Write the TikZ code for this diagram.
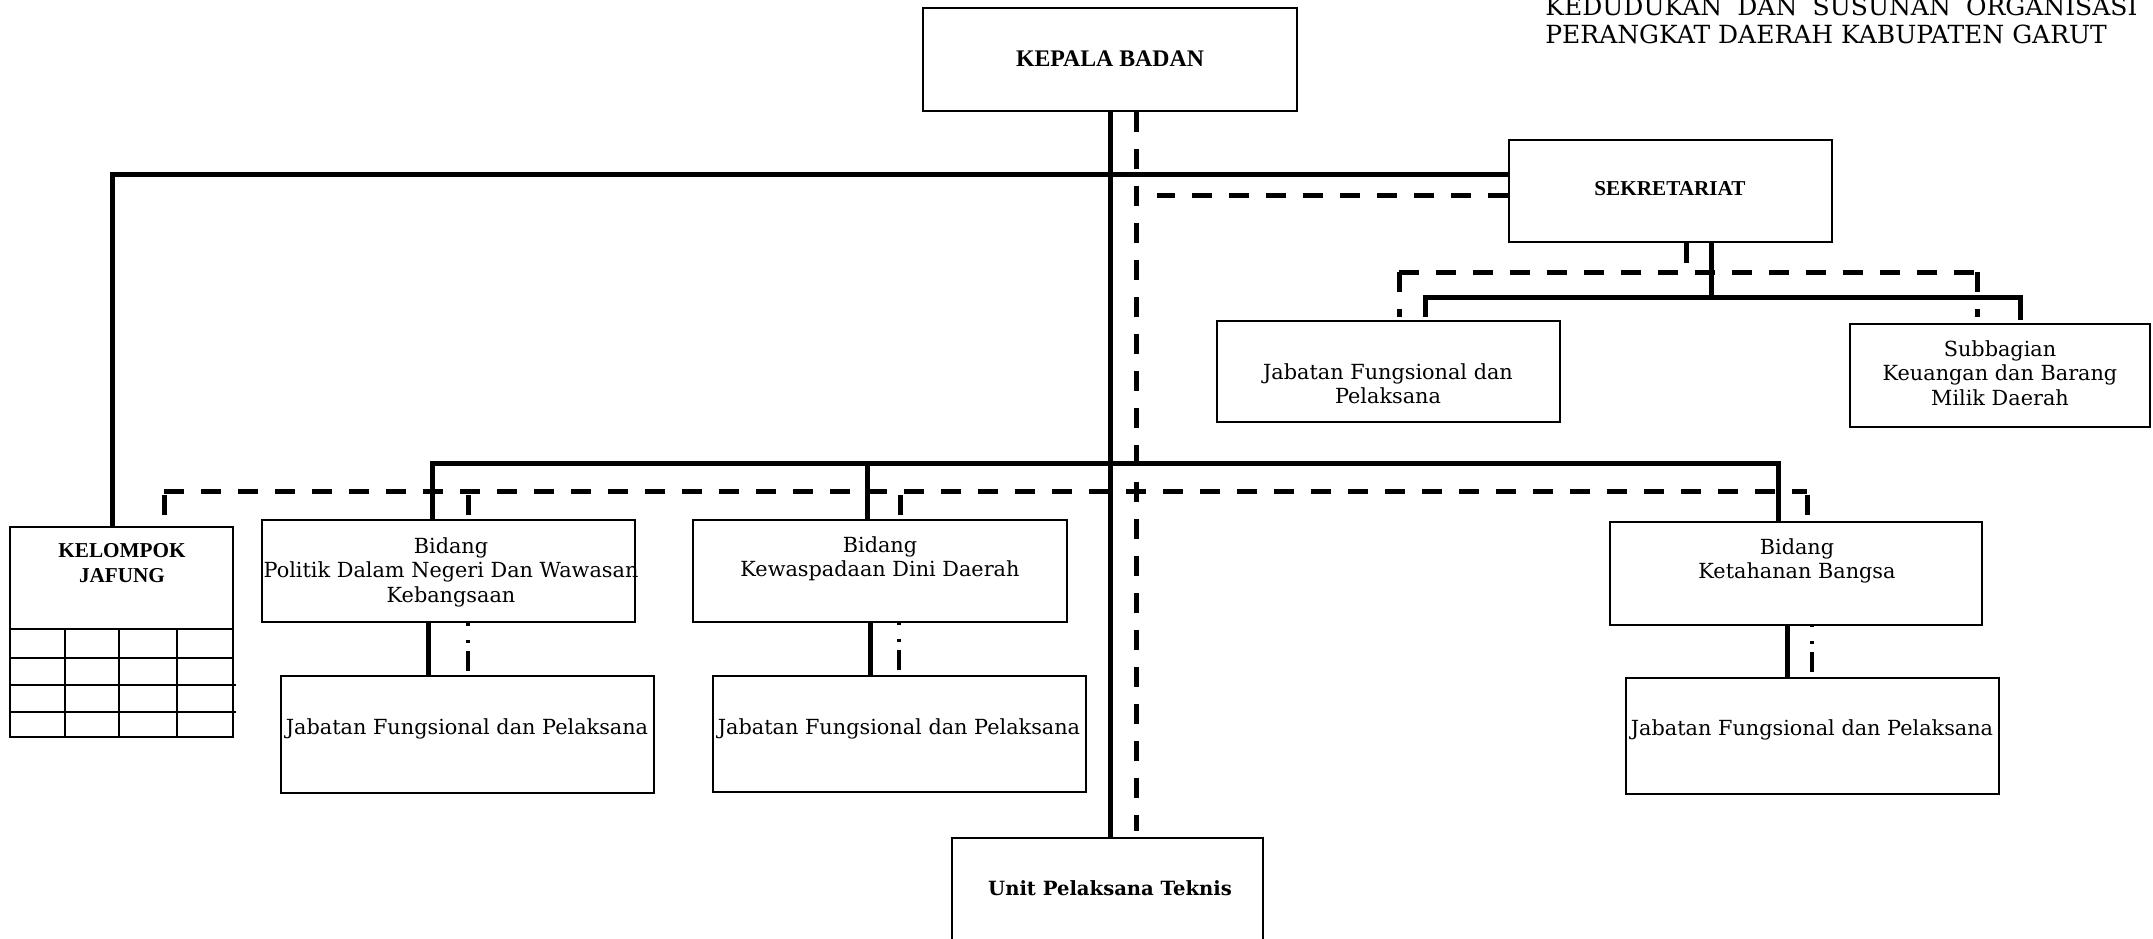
\documentclass[tikz,border=0pt]{standalone}
\usepackage{fontspec}
\setmainfont{Liberation Serif}
\newfontfamily\bkm{DejaVu Serif}
\usetikzlibrary{fit}

\tikzset{
  box/.style={draw, line width=1pt, inner sep=0pt},
  conn/.style={line width=2.5pt},
  dashconn/.style={line width=2.5pt, dash pattern=on 10pt off 8.5pt},
  stubconn/.style={dashconn, dash phase=16.5pt},
  dotconn/.style={line width=2.2pt, dash pattern=on 10pt off 4pt on 1.5pt off 7pt},
  bk/.style={font=\bkm\fontsize{10.4}{12.25}\selectfont, align=center, inner sep=0pt},
  hd/.style={font=\bfseries\fontsize{10.6}{12.5}\selectfont, align=center, inner sep=0pt},
  headline/.style={font=\bkm\fontsize{12.5}{15}\selectfont, inner sep=0pt, anchor=base west},
}

\begin{document}
\begin{tikzpicture}[x=0.5pt, y=-0.5pt]
\useasboundingbox (0,0) rectangle (2153,938);
\clip (0,0) rectangle (2153,938);
\fill[white] (0,0) rectangle (2153,938);

% title lines, top right
\node[headline] (head1) at (1545,15.5) {\makebox[296pt][s]{KEDUDUKAN DAN SUSUNAN ORGANISASI}};
\node[headline] (head2) at (1545,43) {PERANGKAT DAERAH KABUPATEN GARUT};

% boxes
\node[box, fit={(923,8) (1297,111)}] (kepala) {};
\node[box, fit={(1509,140) (1832,242)}] (sekre) {};
\node[box, fit={(1217,321) (1560,422)}] (jfsek) {};
\node[box, fit={(1850,324) (2150,427)}] (subbag) {};
\node[box, fit={(10,527) (233,737)}] (jafung) {};
\node[box, fit={(262,520) (635,622)}] (bid1) {};
\node[box, fit={(693,520) (1067,622)}] (bid2) {};
\node[box, fit={(1610,522) (1982,625)}] (bid3) {};
\node[box, fit={(281,676) (654,793)}] (jf1) {};
\node[box, fit={(713,676) (1086,792)}] (jf2) {};
\node[box, fit={(1626,678) (1999,794)}] (jf3) {};
\node[box, fit={(952,838) (1263,1000)}] (upt) {};

% grid of the functional group box
\foreach \yy/\xe in {629/233, 658/233, 685/236, 712/236}
  \draw[line width=1pt] (10,\yy) -- (\xe,\yy);
\foreach \xx in {65,119,177}
  \draw[line width=1pt] (\xx,629) -- (\xx,737);

% box texts
\node[hd, anchor=base, font=\bfseries\fontsize{11.9}{14}\selectfont] (kepalat) at (1110,66.7) {KEPALA BADAN};
\node[hd, anchor=base] (sekret) at (1670,195) {SEKRETARIAT};
\node[hd, anchor=north] (jafungt) at (122,543) {KELOMPOK\\JAFUNG};
\node[bk, anchor=north] (jfsekt) at (1388,363) {Jabatan Fungsional dan\\Pelaksana};
\node[bk, anchor=north] (subbagt) at (2000,340) {Subbagian\\Keuangan dan Barang\\Milik Daerah};
\node[bk, anchor=north] (bid1t) at (451,537) {Bidang\\Politik Dalam Negeri Dan Wawasan\\Kebangsaan};
\node[bk, anchor=north] (bid2t) at (880,536) {Bidang\\Kewaspadaan Dini Daerah};
\node[bk, anchor=north] (bid3t) at (1797,538) {Bidang\\Ketahanan Bangsa};
\node[bk, anchor=north] (jf1t) at (467,718) {Jabatan Fungsional dan Pelaksana};
\node[bk, anchor=north] (jf2t) at (899,718) {Jabatan Fungsional dan Pelaksana};
\node[bk, anchor=north] (jf3t) at (1812,719) {Jabatan Fungsional dan Pelaksana};
\node[bk, anchor=north, font=\bkm\bfseries\fontsize{9.8}{12}\selectfont] (uptt) at (1110,880) {Unit Pelaksana Teknis};

% command lines
\coordinate (tl) at (112,174);
\draw[conn] (jafung.north -| tl) -- (tl) -- (tl -| sekre.west);
\draw[conn] (kepala.south) -- (kepala.south |- upt.north);

\coordinate (sk) at (1711,297);
\coordinate (sjl) at (1425,297);
\coordinate (sjr) at (2020,297);
\draw[conn] (sekre.south -| sk) -- (sk);
\draw[conn, shorten <=1.5pt, shorten >=1.5pt] (jfsek.north -| sjl) -- (sjl) -- (sjr) -- (subbag.north -| sjr);

\coordinate (b1) at (432,463);
\coordinate (b2) at (867,463);
\coordinate (b3) at (1778,463);
\draw[conn] (bid1.north -| b1) -- (b1) -- (b3) -- (bid3.north -| b3);
\draw[conn] (b2) -- (bid2.north -| b2);

\coordinate (v1) at (428,650);
\coordinate (v2) at (870,650);
\coordinate (v3) at (1787,650);
\draw[conn] (bid1.south -| v1) -- (jf1.north -| v1);
\draw[conn] (bid2.south -| v2) -- (jf2.north -| v2);
\draw[conn] (bid3.south -| v3) -- (jf3.north -| v3);

% coordination lines
\coordinate (kd) at (1136,111);
\draw[dashconn, shorten >=3pt] (kepala.south -| kd) -- (upt.north -| kd);
\coordinate (sd) at (1157,195);
\draw[dashconn] (sekre.west |- sd) -- (sd);

\coordinate (sds) at (1686,272);
\coordinate (sdl) at (1399,272);
\coordinate (sdr) at (1977,272);
\draw[dashconn] (sekre.south -| sds) -- (sds);
\draw[dashconn] (sdl) -- (sdr);
\draw[dashconn, shorten >=1.5pt] (sdl) -- (jfsek.north -| sdl);
\draw[dashconn, shorten >=3pt] (sdr) -- (subbag.north -| sdr);

\coordinate (d0) at (164,491);
\coordinate (d1) at (468,491);
\coordinate (d2) at (900,491);
\coordinate (d3) at (1807,491);
\draw[dashconn] (d0) -- (d3);
\draw[stubconn] (d0) -- (jafung.north -| d0);
\draw[stubconn] (d1) -- (bid1.north -| d1);
\draw[stubconn] (d2) -- (bid2.north -| d2);
\draw[stubconn] (d3) -- (bid3.north -| d3);

\coordinate (w1) at (468,650);
\coordinate (w2) at (899,650);
\coordinate (w3) at (1812,650);
\draw[dotconn, shorten <=2pt] (jf1.north -| w1) -- (bid1.south -| w1);
\draw[dotconn, shorten <=2.5pt] (jf2.north -| w2) -- (bid2.south -| w2);
\draw[dotconn, shorten <=2.5pt] (jf3.north -| w3) -- (bid3.south -| w3);
\end{tikzpicture}
\end{document}
